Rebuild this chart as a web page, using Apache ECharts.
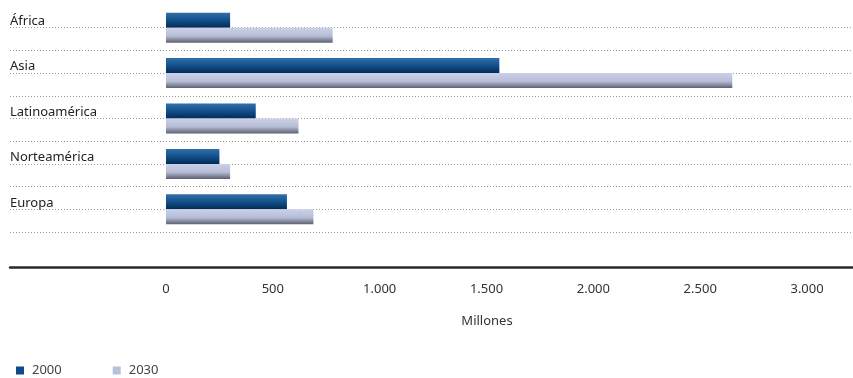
<!DOCTYPE html>
<html>
<head>
<meta charset="utf-8">
<script src="https://cdn.jsdelivr.net/npm/echarts@6/dist/echarts.min.js"></script>
<style>
html,body{margin:0;padding:0;background:#fff;}
#chart{width:853px;height:378px;}
</style>
</head>
<body>
<div id="chart"></div>
<script>
var categories = ['África', 'Asia', 'Latinoamérica', 'Norteamérica', 'Europa'];
var values2000 = [300, 1560, 420, 250, 566];
var values2030 = [780, 2650, 620, 300, 690];
var tickValues = [0, 500, 1000, 1500, 2000, 2500, 3000];
var seriesNames = ['2000', '2030'];

function fmt(v) {
  return String(v).replace(/\B(?=(\d{3})+(?!\d))/g, '.');
}

var font = 'Noto Sans';
var chart = echarts.init(document.getElementById('chart'), null, {renderer: 'canvas'});

var grad2000 = new echarts.graphic.LinearGradient(0, 0, 0, 1, [
  {offset: 0, color: '#3170a9'},
  {offset: 0.45, color: '#16548f'},
  {offset: 1, color: '#022a55'}
]);
var grad2030 = new echarts.graphic.LinearGradient(0, 0, 0, 1, [
  {offset: 0, color: '#cbd1e8'},
  {offset: 0.55, color: '#b6bdd6'},
  {offset: 1, color: '#5d6070'}
]);

chart.setOption({
  animation: false,
  textStyle: {fontFamily: font},
  grid: {left: 10, right: 0, top: 5, height: 227, containLabel: false},
  legend: {
    left: 11, top: 359,
    itemWidth: 8, itemHeight: 8, itemGap: 51,
    icon: 'rect',
    textStyle: {fontSize: 13, color: '#444', fontFamily: font, padding: [0, 0, 0, 3]},
    data: [
      {name: seriesNames[0], itemStyle: {color: '#0d4a8c'}},
      {name: seriesNames[1], itemStyle: {color: '#b8c0dc'}}
    ]
  },
  xAxis: {
    type: 'value',
    min: -730, max: 3215,
    offset: 35,
    axisLine: {show: true, onZero: false, lineStyle: {color: '#2a2a2a', width: 2.5}},
    axisTick: {show: false},
    splitLine: {show: false},
    axisLabel: {
      customValues: tickValues,
      formatter: fmt,
      margin: 16,
      fontSize: 13,
      color: '#333'
    },
    name: 'Millones',
    nameLocation: 'middle',
    nameGap: 48,
    nameTextStyle: {fontSize: 13, color: '#333', padding: [0, 0, 0, 111]}
  },
  yAxis: [{
    type: 'category',
    inverse: true,
    data: categories,
    axisLine: {show: false},
    axisTick: {show: false},
    splitLine: {show: false},
    axisLabel: {
      inside: true,
      margin: 0,
      align: 'left',
      verticalAlign: 'bottom',
      fontSize: 13,
      color: '#222'
    }
  }, {
    type: 'value',
    min: 0, max: 10, interval: 1,
    position: 'right',
    axisLine: {show: false},
    axisTick: {show: false},
    axisLabel: {show: false},
    splitLine: {
      show: true,
      showMinLine: true,
      showMaxLine: false,
      lineStyle: {color: '#9a9a9a', type: [1, 2], width: 1}
    }
  }],
  series: [{
    name: seriesNames[0],
    type: 'bar',
    yAxisIndex: 0,
    data: values2000,
    barWidth: 15,
    barGap: '0%',
    itemStyle: {color: grad2000},
    z: 3
  }, {
    name: seriesNames[1],
    type: 'bar',
    yAxisIndex: 0,
    data: values2030,
    barWidth: 15,
    barGap: '0%',
    itemStyle: {color: grad2030},
    z: 3
  }]
});
</script>
</body>
</html>
